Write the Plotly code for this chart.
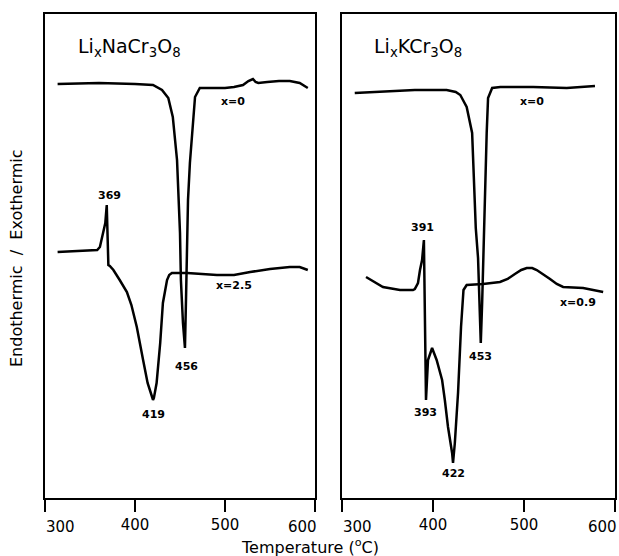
import plotly.graph_objects as go

# ---- data (temperature in °C, signal in arbitrary units) ----
na_x0_T = [314, 360, 400, 420, 430, 437, 442, 446.7, 450, 451, 453.3, 455.5, 456.7, 457.8, 458.9, 461, 463.3, 466.7, 472, 500, 510, 520, 526, 531, 534, 537, 547, 560, 572, 583, 592]
na_x0_v = [414, 415, 414, 413, 408, 400, 381, 338, 265, 218, 175, 150, 200, 250, 298, 335, 365, 401, 410, 410, 411, 413, 417, 419, 416, 415, 416, 417, 417, 415, 410]

na_x25_T = [314, 340, 358, 361, 364.4, 367, 368.6, 369.5, 370.4, 372, 376, 383, 391, 396, 402, 409, 414, 419, 420, 421, 424, 428, 431, 435.6, 438, 441, 458, 491, 510, 528, 550, 572, 583, 592]
na_x25_v = [246, 247, 248, 251, 263, 275, 293, 260, 233, 232, 228, 218, 206, 193, 171, 138, 115, 101, 98, 100, 115, 155, 195, 218, 223, 225, 225, 223, 223, 226, 229, 231, 231, 228]

k_x0_T = [314, 350, 380, 415, 425, 430, 437, 443, 444.5, 447, 449.5, 451, 452.5, 454, 455.5, 457, 459, 460.5, 465, 474, 510, 547, 578]
k_x0_v = [405, 407, 408, 408, 406, 403, 391, 365, 331, 270, 240, 195, 155, 195, 250, 300, 365, 400, 410, 411, 411, 410, 412]

k_x09_T = [326.4, 345, 363.7, 378, 380, 383.5, 385.7, 388, 390, 392.3, 394.5, 399, 404, 410, 413, 416.5, 421, 422, 424, 427.5, 430.8, 432, 433.5, 437, 455, 473.6, 482, 490, 497, 503, 509, 514, 521, 528.6, 536, 543, 565, 587]
k_x09_v = [221, 211, 208, 208, 209, 215, 228, 238, 258, 98, 138, 150, 138, 118, 98, 71, 45, 35, 55, 105, 171, 190, 208, 213, 214, 216, 219, 224, 228, 230, 230, 228, 224, 219, 214, 211, 210, 206]

x_ticks = [300, 400, 500, 600]
x_tick_labels = ["300", "400", "500", "600"]

# annotation labels: (text, T, v)
na_labels = [("369", 372, 303), ("x=0", 509, 397), ("x=2.5", 510, 213), ("456", 457, 132), ("419", 420.5, 84)]
k_labels = [("391", 388, 271), ("x=0", 509, 397), ("x=0.9", 559, 196), ("393", 392, 86), ("422", 422, 25), ("453", 452.7, 142)]

W, H = 619, 556
TOP, BOT = 14, 498  # plot area in pixels


def py2paper(py):
    return (BOT - py) / (BOT - TOP)


fig = go.Figure()
line = dict(color="black", width=2.5)
fig.add_trace(go.Scatter(x=na_x0_T, y=na_x0_v, mode="lines", line=line, xaxis="x", yaxis="y", showlegend=False))
fig.add_trace(go.Scatter(x=na_x25_T, y=na_x25_v, mode="lines", line=line, xaxis="x", yaxis="y", showlegend=False))
fig.add_trace(go.Scatter(x=k_x0_T, y=k_x0_v, mode="lines", line=line, xaxis="x2", yaxis="y2", showlegend=False))
fig.add_trace(go.Scatter(x=k_x09_T, y=k_x09_v, mode="lines", line=line, xaxis="x2", yaxis="y2", showlegend=False))

tickfont = dict(family="DejaVu Sans", size=15, color="black")
# inner tick labels drawn by the axis; end labels (300/600) placed beside their ticks as in the original
inner_text = ["", x_tick_labels[1], x_tick_labels[2], ""]
xcommon = dict(range=[300, 600], tickvals=x_ticks, ticktext=inner_text, ticks="outside", ticklen=12, tickwidth=2,
               tickcolor="black", showline=True, linewidth=1.5, linecolor="black", mirror=True,
               showgrid=False, zeroline=False, tickfont=tickfont, automargin=False)
ycommon = dict(range=[0, 484], showticklabels=False, ticks="", showline=True, linewidth=1.5,
               linecolor="black", mirror=True, showgrid=False, zeroline=False, automargin=False)

fig.update_layout(
    width=W, height=H,
    margin=dict(l=0, r=0, t=TOP, b=H - BOT, autoexpand=False),
    paper_bgcolor="white", plot_bgcolor="white",
    xaxis=dict(domain=[45 / W, 315 / W], anchor="y", **xcommon),
    yaxis=dict(domain=[0, 1], anchor="x", **ycommon),
    xaxis2=dict(domain=[342 / W, 615 / W], anchor="y2", **xcommon),
    yaxis2=dict(domain=[0, 1], anchor="x2", **ycommon),
)

ann = []
small = dict(family="DejaVu Sans", size=11, color="black")
for t, xx, yy in na_labels:
    ann.append(dict(text="<b>%s</b>" % t, x=xx, y=yy, xref="x", yref="y", showarrow=False, font=small))
for t, xx, yy in k_labels:
    ann.append(dict(text="<b>%s</b>" % t, x=xx, y=yy, xref="x2", yref="y2", showarrow=False, font=small))
# end tick labels
for xr in ["x", "x2"]:
    ann.append(dict(text=x_tick_labels[0], x=x_ticks[0], y=py2paper(527), xref=xr, yref="paper",
                    xanchor="left", yanchor="middle", xshift=-1, showarrow=False, font=tickfont))
    ann.append(dict(text=x_tick_labels[-1], x=x_ticks[-1], y=py2paper(527), xref=xr, yref="paper",
                    xanchor="right", yanchor="middle", xshift=4, showarrow=False, font=tickfont))
titlefont = dict(family="DejaVu Sans", size=19, color="black")
ann.append(dict(text="Li<sub>x</sub>NaCr<sub>3</sub>O<sub>8</sub>", x=334, y=451, xref="x", yref="y",
                xanchor="left", showarrow=False, font=titlefont))
ann.append(dict(text="Li<sub>x</sub>KCr<sub>3</sub>O<sub>8</sub>", x=333, y=451, xref="x2", yref="y2",
                xanchor="left", showarrow=False, font=titlefont))
ann.append(dict(text="Temperature (<sup>o</sup>C)", x=310 / W, y=py2paper(546), xref="paper", yref="paper",
                yanchor="middle", xanchor="center", showarrow=False,
                font=dict(family="DejaVu Sans", size=16, color="black")))
ann.append(dict(text="Endothermic  /  Exothermic", x=16 / W, y=py2paper(258), xref="paper", yref="paper",
                textangle=-90, showarrow=False, xanchor="center", yanchor="middle",
                font=dict(family="DejaVu Sans", size=16, color="black")))
fig.update_layout(annotations=ann)

fig.write_html("out.html")
